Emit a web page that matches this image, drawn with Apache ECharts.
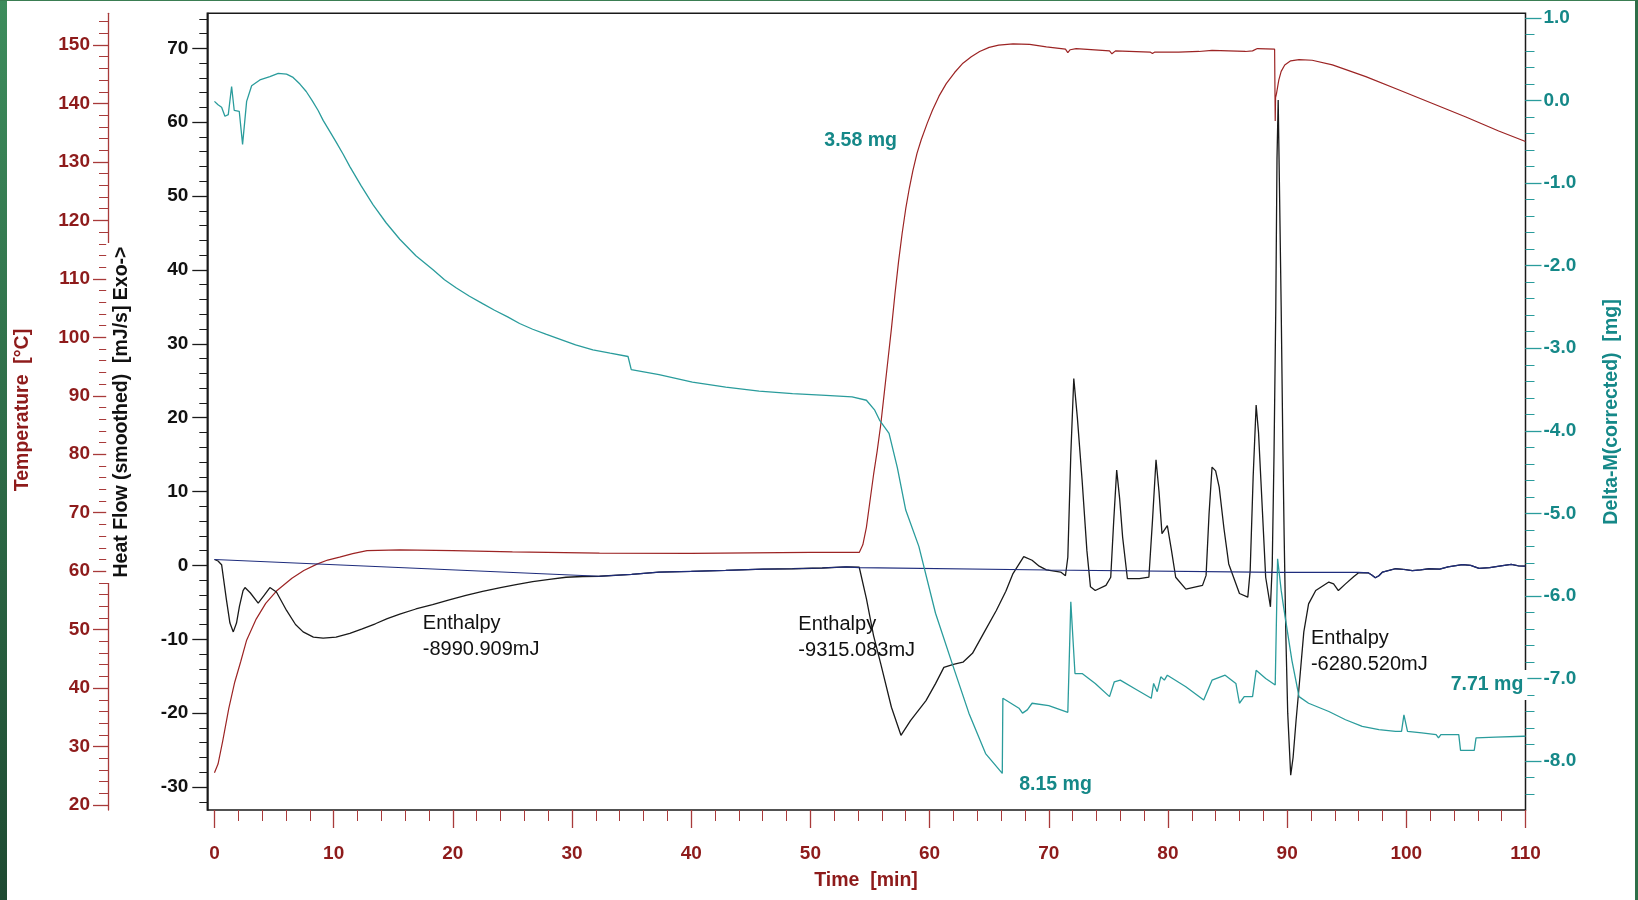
<!DOCTYPE html>
<html><head><meta charset="utf-8">
<script src="https://cdn.jsdelivr.net/npm/echarts@6/dist/echarts.min.js"></script>
<style>
html,body{margin:0;padding:0;background:#fff;}
#wrap{position:relative;width:1638px;height:900px;overflow:hidden;background:#fff;}
#stripL{position:absolute;left:0;top:0;width:7px;height:900px;background:linear-gradient(to bottom,#3d8c5c,#1e4a32);}
#stripT{position:absolute;left:0;top:0;width:1638px;height:1px;background:#3a7d52;}
#stripR{position:absolute;right:0;top:0;width:3px;height:900px;background:#2f6e48;}
#chart{position:absolute;left:0;top:0;width:1638px;height:900px;}
</style></head><body>
<div id="wrap"><div id="stripL"></div><div id="stripT"></div><div id="stripR"></div><div id="chart"></div></div>
<script>
// ---------------- data (time [min], value) ----------------
const temperaturePts = [
 [0,25.5],[0.3,27],[0.7,31],[1.2,36.5],[1.7,41],[2.2,44.5],[2.7,48.2],[3.5,51.8],[4.3,54.5],[5.2,56.6],
 [6.5,58.8],[7.5,60.1],[8.6,61.2],[9.5,61.9],[10.5,62.4],[11.6,63.0],[12.8,63.5],[15.55,63.65],[20,63.5],[25,63.3],
 [32.3,63.1],[40,63.05],[50,63.2],[54.1,63.2],[54.4,64.5],[54.7,67.5],[55.0,72],[55.3,76.5],[55.6,80.5],[55.9,85],
 [56.2,90.5],[56.5,96],[56.8,101.5],[57.1,107.5],[57.4,113],[57.7,117.8],[58.0,122],[58.3,125.5],[58.6,128.5],
 [58.95,131.5],[59.3,133.8],[59.8,136.6],[60.25,138.9],[60.8,141.3],[61.4,143.4],[62.1,145.3],[62.8,146.9],
 [63.5,148.0],[64.2,148.9],[65.0,149.6],[65.8,150.0],[67.0,150.2],[68.4,150.1],[69.8,149.7],[71.4,149.3],
 [71.6,148.7],[71.8,149.2],[72.3,149.4],[75.1,149.0],[75.3,148.5],[75.6,149.0],[78.5,148.8],[78.7,148.55],
 [78.9,148.8],[80.9,148.8],[82.6,148.9],[83.7,149.1],[86.5,148.9],[87.1,149.0],[87.5,149.4],[88.95,149.3],
 [89.0,137.0],[89.03,141.0],[89.1,141.6],[89.3,144],[89.5,145.5],[89.8,146.6],[90.3,147.3],[91.0,147.5],
 [92.1,147.4],[93.8,146.6],[96.6,144.6],[99.4,142.3],[102.2,140.0],[105.0,137.7],[107.75,135.3],[110,133.5]
];
const heatFlowPts = [
 [0,0.8],[0.3,0.6],[0.6,0.1],[1.0,-4.6],[1.3,-7.8],[1.58,-9.0],[1.85,-7.8],[2.1,-5.5],[2.4,-3.4],[2.56,-3.0],
 [3.0,-3.7],[3.67,-5.1],[4.2,-4.0],[4.65,-3.0],[5.2,-3.6],[6.05,-6.1],[6.8,-8.0],[7.44,-9.0],[8.3,-9.7],
 [9.12,-9.85],[10.2,-9.7],[11.36,-9.2],[12.4,-8.6],[13.5,-7.9],[14.5,-7.2],[15.55,-6.6],[16.9,-5.9],[18.3,-5.3],
 [19.7,-4.65],[21.1,-4.06],[22.5,-3.5],[24,-3.0],[25.3,-2.6],[26.7,-2.2],[28.1,-1.88],[29.5,-1.6],[30.9,-1.5],
 [32.3,-1.47],[35,-1.2],[37.3,-0.9],[40,-0.8],[42.9,-0.68],[46,-0.5],[48.5,-0.45],[51,-0.35],
 [53,-0.2],[54.1,-0.25],[54.7,-4.5],[55.3,-9.5],[55.9,-13.3],[56.8,-19.2],[57.6,-23.0],[58.4,-21.0],[59.7,-18.3],
 [60.5,-16.0],[61.2,-13.8],[62.0,-13.4],[62.8,-13.1],[63.6,-11.9],[64.6,-9.0],[65.6,-6.1],[66.4,-3.5],[67.0,-1.1],
 [67.9,1.2],[68.6,0.7],[69.2,-0.1],[69.8,-0.6],[71.0,-0.9],[71.4,-1.4],[71.6,1.1],[71.85,15],[72.1,25.3],
 [72.4,20],[72.8,11.5],[73.2,2],[73.5,-2.9],[73.9,-3.4],[74.8,-2.7],[75.2,-1.6],[75.45,6],[75.7,12.9],[75.95,9],
 [76.2,3.8],[76.6,-1.8],[77.6,-1.8],[78.4,-1.6],[78.7,6],[79.0,14.3],[79.25,10],[79.5,4.3],[79.95,5.4],[80.3,2],
 [80.65,-1.6],[81.5,-3.2],[82.9,-2.7],[83.2,-1.35],[83.45,7],[83.7,13.3],[84.0,12.8],[84.3,10.6],[84.7,5],
 [85.1,0.2],[86.0,-3.8],[86.7,-4.3],[86.9,-0.7],[87.15,12],[87.4,21.7],[87.6,18],[87.8,11.5],[88.2,-1.6],
 [88.6,-5.6],[88.75,0],[88.9,15],[89.05,35],[89.15,55],[89.25,63],[89.35,52],[89.5,35],[89.65,15],[89.75,4],
 [89.9,-10],[90.05,-20],[90.3,-28.4],[90.5,-26],[90.75,-21],[91.0,-16.5],[91.4,-9],[91.8,-5.2],[92.4,-3.4],
 [93.5,-2.25],[93.9,-2.5],[94.3,-3.4],[94.9,-2.5],[95.6,-1.5],[96.0,-1.0],[96.8,-1.0],[97.1,-1.3],[97.4,-1.67],
 [97.7,-1.4],[98.0,-0.9],[99.1,-0.45],[99.8,-0.55],[100.5,-0.7],[101.2,-0.6],[101.9,-0.45],[102.8,-0.5],
 [103.5,-0.2],[104.7,0.1],[105.4,0.0],[106.1,-0.4],[107.0,-0.3],[107.8,-0.1],[108.8,0.13],[109.4,-0.05],[110,-0.1]
];
const baselinePts = [
 [0,0.8],[32.3,-1.47],[35,-1.2],[37.3,-0.9],[40,-0.8],[42.9,-0.68],[46,-0.5],[48.5,-0.45],[51,-0.35],[53,-0.2],
 [54.1,-0.3],[70,-0.62],[89.3,-0.95],[96.0,-0.95],[96.8,-1.0],[97.1,-1.3],[97.4,-1.67],[97.7,-1.4],[98.0,-0.9],
 [99.1,-0.45],[99.8,-0.55],[100.5,-0.7],[101.2,-0.6],[101.9,-0.45],[102.8,-0.5],[103.5,-0.2],[104.7,0.1],
 [105.4,0.0],[106.1,-0.4],[107.0,-0.3],[107.8,-0.1],[108.8,0.13],[109.4,-0.05],[110,-0.1]
];
const massPts = [
 [0,-0.01],[0.3,-0.05],[0.6,-0.08],[0.88,-0.19],[1.16,-0.17],[1.44,0.17],[1.66,-0.12],[2.08,-0.13],[2.36,-0.53],
 [2.7,-0.01],[3.12,0.18],[3.81,0.25],[4.65,0.29],[5.35,0.33],[6.05,0.32],[6.6,0.28],[7.17,0.20],[7.7,0.11],
 [8.2,0.0],[8.7,-0.12],[9.12,-0.24],[9.7,-0.38],[10.2,-0.5],[10.8,-0.65],[11.36,-0.80],[12.3,-1.03],[13.3,-1.26],
 [14.4,-1.48],[15.55,-1.68],[16.9,-1.88],[18.34,-2.05],[19.3,-2.17],[20.3,-2.27],[21.4,-2.37],[22.5,-2.46],
 [23.5,-2.54],[24.6,-2.62],[25.6,-2.70],[26.7,-2.77],[27.8,-2.83],[28.96,-2.89],[30.3,-2.96],[31.75,-3.02],
 [33.2,-3.06],[34.7,-3.10],[34.97,-3.26],[37.3,-3.32],[40.1,-3.41],[42.9,-3.47],
 [45.7,-3.52],[48.5,-3.55],[51.3,-3.57],[53.5,-3.59],[54.7,-3.63],[55.4,-3.75],[55.8,-3.87],[56.6,-4.03],
 [57.3,-4.45],[58.0,-4.96],[59.1,-5.40],[60.5,-6.21],[61.9,-6.82],[63.3,-7.42],[64.7,-7.91],[66.1,-8.15],
 [66.15,-7.24],[67.5,-7.36],[67.8,-7.42],[68.2,-7.38],[68.6,-7.30],[70.0,-7.33],[71.6,-7.41],[71.85,-6.07],
 [72.2,-6.94],[72.8,-6.94],[73.9,-7.06],[75.1,-7.22],[75.5,-7.04],[76.0,-7.02],[77.3,-7.13],[78.6,-7.24],
 [78.8,-7.06],[79.1,-7.16],[79.4,-6.98],[79.7,-7.02],[79.95,-6.96],[81.5,-7.1],[83.0,-7.26],[83.7,-7.02],
 [84.8,-6.96],[85.7,-7.06],[86.0,-7.30],[86.4,-7.22],[87.1,-7.22],[87.4,-6.90],[88.2,-7.00],[89.0,-7.08],
 [89.2,-5.55],[89.5,-5.93],[89.7,-6.13],[90.4,-6.78],[91.0,-7.22],[91.8,-7.30],[93.5,-7.40],[94.9,-7.50],
 [96.3,-7.58],[97.7,-7.62],[99.1,-7.64],[99.6,-7.64],[99.8,-7.44],[100.1,-7.64],[101.3,-7.66],[102.5,-7.68],
 [102.7,-7.72],[102.9,-7.68],[104.4,-7.68],[104.55,-7.87],[105.7,-7.87],[105.85,-7.72],[107.5,-7.71],
 [109.85,-7.70],[110,-7.70]
];
// tick labels
const timeTicks = [0,10,20,30,40,50,60,70,80,90,100,110];
const heatFlowTicks = [-30,-20,-10,0,10,20,30,40,50,60,70];
const temperatureTicks = [20,30,40,50,60,70,80,90,100,110,120,130,140,150];
const massTicks = [-8,-7,-6,-5,-4,-3,-2,-1,0,1];
// annotations: [text, time, value, axis]
const annotations = [
 ['Enthalpy\n-8990.909mJ', 17.48, -9.6, 'hf'],
 ['Enthalpy\n-9315.083mJ', 48.99, -9.7, 'hf'],
 ['Enthalpy\n-6280.520mJ', 92.0, -11.7, 'hf'],
 ['3.58 mg', 51.17, -0.48, 'mass'],
 ['8.15 mg', 67.52, -8.28, 'mass'],
 ['7.71 mg', 103.56, -7.08, 'mass']
];

function steps(a, b, s) { const r = []; for (let i = 0; a + i * s <= b + 1e-9; i++) r.push(Math.round((a + i * s) * 1000) / 1000); return r; }

const FONT = '"Liberation Sans", Arial, sans-serif';
const RED = '#8e1b1b', REDLINE = '#a83a3a', TEAL = '#158888', TEALLINE = '#2a9c9c';
const LBL = { fontFamily: FONT, fontWeight: 'bold', fontSize: 19 };

function yAx(o) {
  const base = { type: 'value', splitLine: { show: false }, axisLine: { show: false, onZero: false },
    axisLabel: { show: false }, axisTick: { show: false } };
  const r = Object.assign(base, o);
  r.axisLine = Object.assign({ onZero: false }, r.axisLine);
  return r;
}

const option = {
  animation: false,
  backgroundColor: 'transparent',
  grid: { left: 207.3, right: 112.5, top: 13.3, bottom: 90, show: true, borderColor: '#1a1a1a', borderWidth: 1.5, backgroundColor: 'transparent' },
  xAxis: [
    { type: 'value', min: -0.6, max: 110, position: 'bottom', splitLine: { show: false }, axisLine: { show: false, onZero: false },
      axisTick: { show: true, customValues: timeTicks, length: 18, lineStyle: { color: REDLINE, width: 1.3 } },
      axisLabel: Object.assign({ customValues: timeTicks, color: RED, margin: 34 }, LBL) },
    { type: 'value', min: -0.6, max: 110, position: 'bottom', splitLine: { show: false }, axisLine: { show: false, onZero: false },
      axisTick: { show: true, customValues: steps(0, 110, 2), length: 11, lineStyle: { color: REDLINE, width: 1 } },
      axisLabel: { show: false } }
  ],
  yAxis: [
    yAx({ position: 'left', min: -33.11, max: 74.74, z: 3,
      axisLine: { show: true, lineStyle: { color: '#1a1a1a', width: 1.5 } },
      axisTick: { show: true, customValues: heatFlowTicks, length: 15, lineStyle: { color: '#1a1a1a', width: 1.3 } },
      axisLabel: Object.assign({ show: true, customValues: heatFlowTicks, color: '#111', margin: 19 }, LBL) }),
    yAx({ position: 'left', min: -33.11, max: 74.74,
      axisTick: { show: true, customValues: steps(-32, 74, 2), length: 8, lineStyle: { color: '#1a1a1a', width: 1 } } }),
    yAx({ position: 'left', offset: 99.3, min: 19.145, max: 155.43, z: 1,
      axisLine: { show: true, lineStyle: { color: REDLINE, width: 1.3 } },
      axisTick: { show: true, customValues: temperatureTicks, length: 15, lineStyle: { color: REDLINE, width: 1.3 } },
      axisLabel: Object.assign({ show: true, customValues: temperatureTicks, color: RED, margin: 18 }, LBL) }),
    yAx({ position: 'left', offset: 99.3, min: 19.145, max: 155.43,
      axisTick: { show: true, customValues: steps(20, 154, 2), length: 9, lineStyle: { color: REDLINE, width: 1 } } }),
    yAx({ position: 'right', min: -8.593, max: 1.057,
      axisTick: { show: true, customValues: massTicks, length: 16, lineStyle: { color: TEALLINE, width: 1.3 } },
      axisLabel: Object.assign({ show: true, customValues: massTicks, color: TEAL, margin: 18,
        formatter: v => Number(v).toFixed(1) }, LBL) }),
    yAx({ position: 'right', min: -8.593, max: 1.057,
      axisTick: { show: true, customValues: steps(-8.4, 1.0, 0.2), length: 9, lineStyle: { color: TEALLINE, width: 1 } } })
  ],
  series: [
    { name: 'Temperature', type: 'line', xAxisIndex: 0, yAxisIndex: 2, data: temperaturePts, showSymbol: false,
      lineStyle: { color: '#9c2424', width: 1.2 }, z: 2 },
    { name: 'Heat Flow', type: 'line', xAxisIndex: 0, yAxisIndex: 0, data: heatFlowPts, showSymbol: false,
      lineStyle: { color: '#1a1a1a', width: 1.3 }, z: 3 },
    { name: 'Baseline', type: 'line', xAxisIndex: 0, yAxisIndex: 0, data: baselinePts, showSymbol: false,
      lineStyle: { color: '#1f2d7d', width: 1.2 }, z: 4 },
    { name: 'Delta-M', type: 'line', xAxisIndex: 0, yAxisIndex: 4, data: massPts, showSymbol: false,
      lineStyle: { color: TEALLINE, width: 1.3 }, z: 5 }
  ]
};

const chart = echarts.init(document.getElementById('chart'), null, { renderer: 'canvas' });
chart.setOption(option);

function vtitle(text, x, y, color, extra) {
  return Object.assign({ type: 'text', x: x, y: y, rotation: Math.PI / 2, z: 50,
    style: Object.assign({ text: text, fill: color, fontFamily: FONT, fontWeight: 'bold', fontSize: 19.5,
      align: 'center', verticalAlign: 'middle', textAlign: 'center', textVerticalAlign: 'middle' }, extra || {}) });
}
const graphics = [
  // white mask behind the heat-flow title (interrupts the temperature axis line as in the original)
  { type: 'rect', z: 49, shape: { x: 106.2, y: 243, width: 28, height: 340 }, style: { fill: '#fff' } },
  vtitle('Temperature  [°C]', 22.5, 410, RED),
  vtitle('Heat Flow (smoothed)  [mJ/s] Exo->', 122, 412, '#111'),
  vtitle('Delta-M(corrected)  [mg]', 1612, 412, TEAL),
  { type: 'text', x: 866, y: 881, z: 50, style: { text: 'Time  [min]', fill: RED, fontFamily: FONT, fontWeight: 'bold',
      fontSize: 19.5, align: 'center', verticalAlign: 'middle', textAlign: 'center', textVerticalAlign: 'middle' } }
];
annotations.forEach(a => {
  const finder = a[3] === 'hf' ? { xAxisIndex: 0, yAxisIndex: 0 } : { xAxisIndex: 0, yAxisIndex: 4 };
  const p = chart.convertToPixel(finder, [a[1], a[2]]);
  const isMass = a[3] === 'mass';
  const st = { text: a[0], fill: isMass ? TEAL : '#111', fontFamily: FONT, fontWeight: isMass ? 'bold' : 'normal',
    fontSize: isMass ? 19.5 : 20, lineHeight: 26, align: 'left', verticalAlign: 'middle', textAlign: 'left', textVerticalAlign: 'middle' };
  if (a[0] === '7.71 mg') { st.backgroundColor = '#fff'; st.padding = [2, 4, 2, 2]; }
  graphics.push({ type: 'text', x: p[0], y: p[1], z: 50, style: st });
});
chart.setOption({ graphic: graphics });
</script>
</body></html>
